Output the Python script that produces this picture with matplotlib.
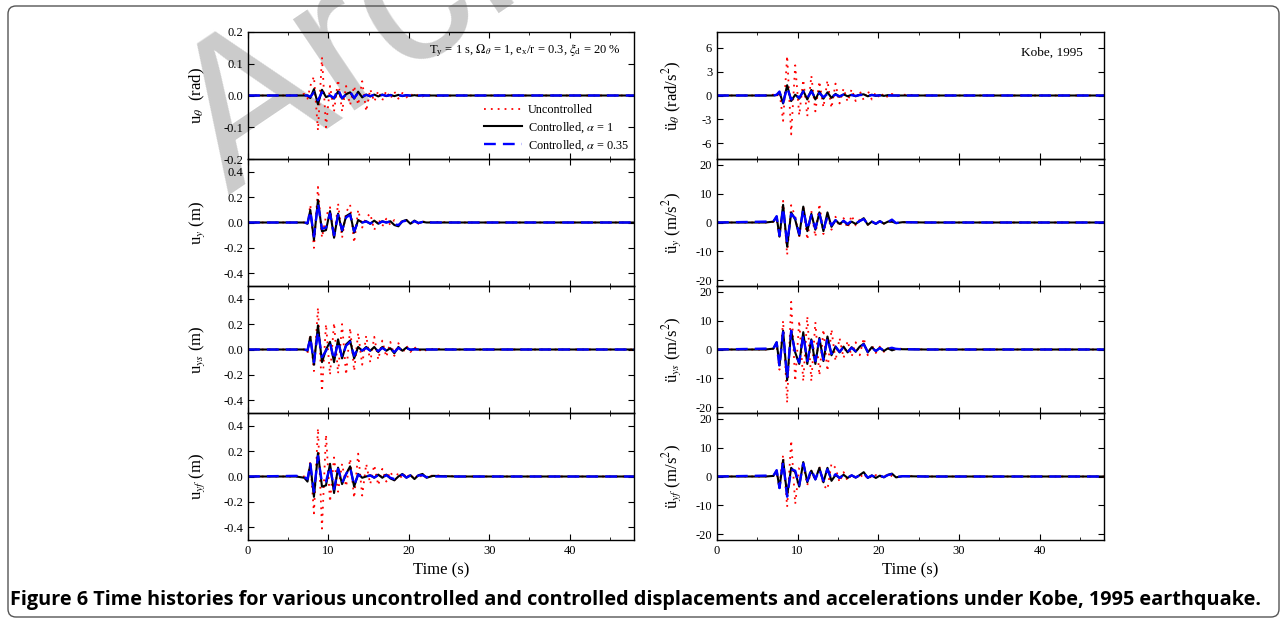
import matplotlib
matplotlib.use("Agg")
import matplotlib.pyplot as plt
from matplotlib.patches import FancyBboxPatch
from matplotlib.ticker import MultipleLocator

plt.rcParams['font.family'] = ['Liberation Serif', 'DejaVu Serif']
plt.rcParams['mathtext.fontset'] = 'stix'
plt.rcParams['axes.unicode_minus'] = False

# sample times (s) of the picked peaks
time = [0, 6, 7.0, 7.4, 7.75, 8.2, 8.7, 9.2, 9.7, 10.2, 10.7, 11.2, 11.7, 12.2, 12.7, 13.2,
        13.7, 14.2, 14.7, 15.2, 15.7, 16.2, 16.7, 17.2, 17.7, 18.2, 18.7, 19.2, 19.7, 20.2,
        20.7, 21.2, 21.7, 22.2, 23, 26, 48]

# u_theta (rad)
uth_unc = [0, 0, 0.005, -0.01, 0.03, 0.06, -0.11, 0.12, -0.1, 0.03, -0.05, 0.05, -0.05, 0.03, -0.03, 0.03,
           -0.03, 0.045, -0.05, 0.02, -0.02, 0.015, -0.015, 0.015, -0.01, 0.012, -0.01, 0.008, -0.006, 0.006,
           -0.005, 0.004, -0.003, 0.003, -0.002, 0, 0]
uth_c1 = [0, 0, 0, 0.0, -0.008, 0.02, -0.028, 0.018, -0.005, 0.0, -0.01, 0.013, -0.01, 0.004, 0.01, -0.01,
          0.012, -0.006, 0.003, -0.003, 0.003, -0.003, 0.003, -0.002, 0.002, -0.002, 0.002, -0.002, 0.001, -0.001,
          0.001, -0.001, 0.001, 0, 0, 0, 0]
uth_c35 = [0, 0, 0, 0.0, -0.004, 0.01, -0.015, 0.01, -0.004, 0.0, -0.008, 0.02, -0.008, 0.003, 0.012, -0.008,
           0.008, -0.004, 0.002, -0.002, 0.002, -0.002, 0.002, -0.001, 0.001, -0.001, 0.001, -0.001, 0.001, 0,
           0, 0, 0, 0, 0, 0, 0]

# u_theta acceleration (rad/s2)
ath_unc = [0, 0, 0.1, -0.2, 0.5, -3.2, 5.0, -4.9, 3.8, -2.5, 2.0, -2.6, 2.5, -2.0, 1.8, -1.5,
           1.9, -1.6, 1.5, -1.0, 0.9, -0.8, 0.8, -0.7, 0.6, -0.6, 0.6, -0.5, 0.4, -0.35,
           0.3, -0.25, 0.2, -0.15, 0.1, 0, 0]
ath_c1 = [0, 0, 0, 0.05, 0.4, -1.0, 1.3, -0.7, 0.1, -0.4, 0.6, -0.5, 0.7, -0.5, 0.5, -0.4,
          0.4, -0.3, 0.2, -0.15, 0.15, -0.1, 0.1, -0.1, 0.1, 0.15, -0.1, 0.1, -0.05, 0.05,
          -0.05, 0.05, 0, 0, 0, 0, 0]
ath_c35 = [0, 0, 0, 0.1, 0.5, -0.9, 1.0, -0.5, 0.2, -0.3, 0.5, -0.3, 0.5, -0.3, 0.3, -0.2,
           0.2, -0.15, 0.1, -0.1, 0.1, -0.05, 0.05, -0.05, 0.05, 0.1, -0.05, 0.05, 0, 0,
           0, 0, 0, 0, 0, 0, 0]

# u_y (m)
uy_unc = [0, 0, 0.0, -0.02, 0.14, -0.2, 0.28, -0.12, 0.05, 0.12, -0.13, 0.15, -0.12, 0.08, 0.14, -0.16,
          0.1, -0.04, 0.04, 0.07, -0.06, 0.03, -0.03, 0.03, -0.02, 0.02, -0.03, 0.02, 0.02, -0.01,
          0.01, -0.01, 0.01, 0.0, 0.005, 0, 0]
uy_c1 = [0, 0, 0.0, -0.01, 0.098, -0.138, 0.177, -0.07, -0.06, 0.09, -0.12, 0.07, -0.07, 0.05, 0.07, -0.08,
         0.02, 0.0, 0.01, -0.01, 0.015, -0.01, 0.01, 0.0, 0.01, -0.02, -0.03, 0.01, 0.02, -0.01,
         0.015, -0.005, 0.005, 0, 0, 0, 0]
uy_c35 = [0, 0, 0.0, -0.005, 0.09, -0.11, 0.15, -0.05, -0.04, 0.07, -0.1, 0.06, -0.06, 0.04, 0.06, -0.07,
          0.01, 0.0, 0.008, -0.008, 0.01, -0.008, 0.008, 0.0, 0.008, -0.015, -0.02, 0.008, 0.015, -0.008,
          0.01, -0.004, 0.004, 0, 0, 0, 0]

# u_y acceleration (m/s2)
ay_unc = [0, 0, 0.3, 1.0, -5.5, 7.5, -11.2, 6.0, 2.0, -5.0, 6.0, -6.0, 4.0, -5.0, 6.5, -4.0,
          2.5, -2.5, 2.0, -1.5, 1.5, -2.0, 2.5, -1.0, 1.0, 1.5, -0.8, 0.6, -0.6, 0.5,
          -0.4, 0.3, 0.3, -0.2, 0.1, 0, 0]
ay_c1 = [0, 0, 0.3, 2.0, -4.9, 6.1, -8.4, 3.5, 1.0, -4.5, 5.5, -3.0, 3.0, -2.5, 3.5, -3.0,
         3.5, -1.5, 0.8, -0.5, 0.5, -0.8, 0.3, -0.5, 0.5, 1.5, -0.8, 0.3, -0.5, 0.5,
         -0.4, 0.3, 0.3, -0.2, 0.1, 0, 0]
ay_c35 = [0, 0.3, 0.4, 2.2, -4.5, 5.0, -7.0, 3.0, 1.5, -4.0, 4.5, -2.5, 2.5, -2.0, 3.0, -2.5,
          2.0, -1.0, 0.8, -0.6, 0.6, -0.5, 0.6, -0.3, 0.5, 1.2, -0.6, 0.3, -0.4, 0.4,
          -0.3, 0.2, 1.0, -0.2, 0.1, 0, 0]

# u_ys (m)
uys_unc = [0, 0, 0.0, -0.03, 0.12, -0.17, 0.33, -0.33, 0.2, -0.2, 0.21, -0.19, 0.2, -0.2, 0.17, -0.17,
           0.13, -0.12, 0.11, -0.1, 0.1, -0.08, 0.07, -0.06, 0.06, -0.05, 0.05, -0.03, 0.03, -0.02,
           0.02, -0.015, 0.01, -0.01, 0.005, 0, 0]
uys_c1 = [0, 0, 0.0, -0.01, 0.1, -0.12, 0.19, -0.1, 0.0, 0.06, -0.1, 0.08, -0.07, 0.04, 0.07, -0.07,
          0.02, -0.01, 0.02, -0.01, 0.02, -0.02, 0.02, -0.01, 0.01, -0.03, 0.02, -0.01, 0.015, -0.005,
          0.005, 0, 0, 0, 0, 0, 0]
uys_c35 = [0, 0, 0.0, -0.005, 0.09, -0.1, 0.14, -0.06, -0.01, 0.05, -0.08, 0.06, -0.06, 0.03, 0.06, -0.05,
           0.015, -0.008, 0.012, -0.008, 0.012, -0.012, 0.012, -0.008, 0.008, -0.02, 0.012, -0.008, 0.01, 0,
           0, 0, 0, 0, 0, 0, 0]

# u_ys acceleration (m/s2)
ays_unc = [0, 0, 0.3, 1.0, -7.0, 10.0, -18.5, 16.5, -11.0, 10.0, -11.0, 11.5, -11.0, 9.5, -9.0, 7.0,
           -7.5, 7.0, -4.0, 4.0, -3.0, 3.0, -2.5, 2.5, -2.0, 4.0, -2.0, 1.5, -1.2, 1.0,
           -0.8, 0.6, -0.5, 0.4, 0.2, 0, 0]
ays_c1 = [0, 0, 0.3, 2.5, -5.5, 6.5, -10.6, 6.5, -1.0, -5.0, 6.0, -5.0, 3.5, -5.0, 4.0, -4.0,
          4.5, -2.0, 1.0, -1.0, 1.0, -1.0, 0.8, -0.8, 1.0, 2.0, -1.0, 0.8, -0.6, 0.6,
          -0.5, 0.4, -0.3, 0.2, 0.1, 0, 0]
ays_c35 = [0, 0.3, 0.4, 2.5, -6.0, 6.0, -10.0, 6.5, -1.5, -4.5, 5.0, -4.0, 3.0, -4.0, 3.5, -3.5,
           4.0, -1.5, 1.0, -0.8, 0.8, -0.8, 0.6, -0.6, 0.8, 1.8, -0.8, 0.6, -0.5, 0.5,
           -0.4, 0.3, 0.6, 0.2, 0.1, 0, 0]

# u_yf (m)
uyf_unc = [0, 0, 0.0, -0.02, 0.12, -0.29, 0.38, -0.41, 0.33, -0.2, 0.15, -0.12, 0.1, -0.08, 0.14, -0.17,
           0.18, -0.15, 0.1, -0.06, 0.09, -0.07, 0.06, -0.04, 0.04, -0.03, 0.03, -0.02, 0.03, -0.02,
           0.02, -0.02, 0.02, -0.01, 0.01, 0, 0]
uyf_c1 = [0, 0, -0.01, -0.04, 0.1, -0.16, 0.185, -0.08, -0.07, 0.1, -0.13, 0.07, -0.06, 0.02, 0.08, -0.08,
          0.02, -0.01, 0.0, 0.01, -0.01, 0.015, -0.01, 0.015, -0.015, -0.03, 0.0, 0.02, -0.01, 0.01,
          -0.02, 0.01, 0.02, -0.01, 0.005, 0, 0]
uyf_c35 = [0, 0.005, -0.005, -0.02, 0.1, -0.12, 0.16, -0.05, -0.04, 0.08, -0.1, 0.06, -0.05, 0.02, 0.07, -0.07,
           0.015, -0.008, 0.0, 0.008, -0.008, 0.01, -0.008, 0.01, -0.01, -0.02, 0.0, 0.015, -0.008, 0.008,
           -0.01, 0.008, 0.01, -0.005, 0, 0, 0]

# u_yf acceleration (m/s2)
ayf_unc = [0, 0, 0.2, 1.0, -3.5, 7.5, -10.5, 12.5, -9.5, 3.0, 4.0, -3.0, 2.0, -1.5, 3.5, -3.0,
           -4.5, 4.5, 3.0, -2.0, 1.5, -1.5, 1.0, -1.0, 1.0, -0.8, 0.8, -0.6, 0.5, -0.5,
           1.0, -0.4, 0.3, -0.3, 0.2, 0, 0]
ayf_c1 = [0, 0, 0.2, 2.0, -4.0, 5.7, -6.5, 3.0, 1.5, -3.5, 5.0, -2.0, 2.0, -1.0, 3.0, -2.0,
          3.0, -1.5, 0.5, -0.5, 0.6, -0.5, 0.4, -0.4, 0.5, 1.5, -0.5, 0.4, -0.5, 0.3,
          -0.3, 0.6, 1.0, -0.3, 0.1, 0, 0]
ayf_c35 = [0, 0.3, 0.3, 2.2, -4.0, 5.0, -7.0, 2.5, 2.0, -3.0, 4.5, -1.5, 2.5, -1.0, 2.5, -1.5,
           2.5, -1.0, 0.8, -0.5, 0.5, -0.4, 0.4, -0.3, 0.4, 1.2, -0.4, 0.3, -0.3, 0.3,
           -0.2, 0.5, 0.8, -0.2, 0.1, 0, 0]

labels_left = [r"u$_\theta$  (rad)", r"u$_y$ (m)", r"u$_{ys}$ (m)", r"u$_{yf}$ (m)"]
labels_right = [r"ü$_\theta$ (rad/s$^2$)", r"ü$_y$ (m/s$^2$)", r"ü$_{ys}$ (m/s$^2$)", r"ü$_{yf}$ (m/s$^2$)"]
left_data = [(uth_unc, uth_c1, uth_c35), (uy_unc, uy_c1, uy_c35),
             (uys_unc, uys_c1, uys_c35), (uyf_unc, uyf_c1, uyf_c35)]
right_data = [(ath_unc, ath_c1, ath_c35), (ay_unc, ay_c1, ay_c35),
              (ays_unc, ays_c1, ays_c35), (ayf_unc, ayf_c1, ayf_c35)]
left_lim = [0.2, 0.5, 0.5, 0.5]
left_step = [0.1, 0.2, 0.2, 0.2]
right_lim = [8, 22, 22, 22]
right_step = [3, 10, 10, 10]

W, H = 1287, 624
fig = plt.figure(figsize=(W / 100, H / 100), dpi=100)

# watermark behind the plots (runs off the top edge as in the original)
fig.text(228 / W, 1 - 195 / H, "Archived", fontsize=150, color="#cbcbcb", rotation=34,
         family="Liberation Sans", ha="left", va="baseline",
         rotation_mode="anchor", zorder=-5)

# frame and caption
fig.patches.append(FancyBboxPatch((8 / 100, (H - 617) / 100), (1279 - 8) / 100, (617 - 6) / 100,
                                  boxstyle="round,pad=0,rounding_size=0.08", transform=fig.dpi_scale_trans,
                                  fill=False, edgecolor="#555555", linewidth=1.0))
fig.text(10 / W, 1 - 600 / H, "Figure 6 Time histories for various uncontrolled and controlled displacements "
         "and accelerations under Kobe, 1995 earthquake.", family="Open Sans", fontweight="bold",
         fontsize=14.3, va="center", ha="left")


def rect(x0, x1, y0, y1):
    return [x0 / W, 1 - y1 / H, (x1 - x0) / W, (y1 - y0) / H]


row_edges = [32, 159, 286, 413, 540]
cols = [(248, 634, labels_left, left_data, left_lim, left_step, -0.105),
        (717, 1104, labels_right, right_data, right_lim, right_step, -0.085)]

axes = {}
for c, (x0, x1, labels, data, lims, steps, lab_x) in enumerate(cols):
    for r in range(4):
        ax = fig.add_axes(rect(x0, x1, row_edges[r], row_edges[r + 1]))
        ax.set_facecolor("none")
        unc, c1, c35 = data[r]
        ax.plot(time, unc, color="red", linestyle=(0, (1, 2.8)), linewidth=1.3)
        ax.plot(time, c1, color="black", linewidth=1.5)
        ax.plot(time, c35, color="blue", linestyle=(0, (5, 3)), linewidth=1.7)
        ax.set_xlim(0, 48)
        ax.set_ylim(-lims[r], lims[r])
        ax.xaxis.set_major_locator(MultipleLocator(10))
        ax.xaxis.set_minor_locator(MultipleLocator(5))
        ax.set_yticks([k * steps[r] for k in range(-2, 3)])
        ax.tick_params(which="both", direction="in", top=True, right=True, labelsize=9)
        ax.tick_params(which="major", length=4)
        ax.tick_params(which="minor", length=2.5)
        ax.set_ylabel(labels[r], fontsize=12)
        ax.yaxis.set_label_coords(lab_x, 0.5)
        if r < 3:
            ax.tick_params(labelbottom=False)
        else:
            ax.set_xlabel("Time (s)", fontsize=12)
        for s in ax.spines.values():
            s.set_linewidth(1.0)
        axes[(r, c)] = ax

ax0 = axes[(0, 0)]
ax0.text(0.965, 0.85, r"T$_\mathregular{y}$ = 1 s, $\Omega_\theta$ = 1, e$_\mathregular{x}$/r = 0.3, "
         r"$\xi_\mathregular{d}$ = 20 %", transform=ax0.transAxes, ha="right", va="center", fontsize=9)
axes[(0, 1)].text(0.946, 0.835, "Kobe, 1995", transform=axes[(0, 1)].transAxes,
                  ha="right", va="center", fontsize=9.5)
lines = ax0.get_lines()
ax0.legend(lines, ["Uncontrolled", r"Controlled, $\alpha$ = 1", r"Controlled, $\alpha$ = 0.35"],
           loc="upper left", bbox_to_anchor=(0.612, 0.43), frameon=False, fontsize=8.8,
           handlelength=3.1, handletextpad=0.45, labelspacing=0.3, borderpad=0, borderaxespad=0)

fig.savefig("out.png", dpi=100)
